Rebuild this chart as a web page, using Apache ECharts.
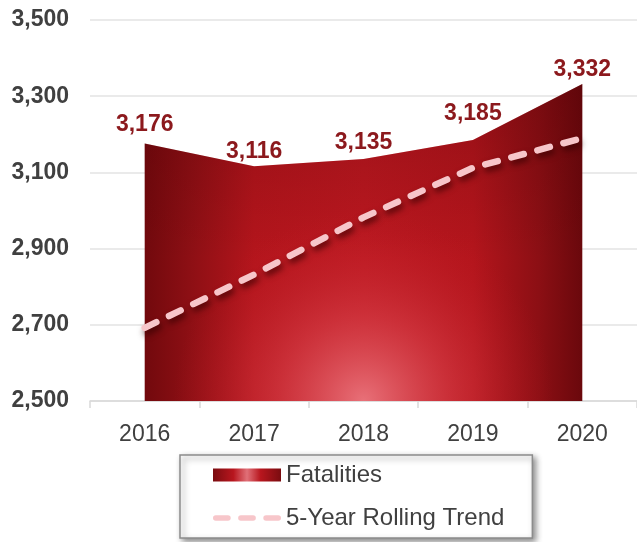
<!DOCTYPE html>
<html>
<head>
<meta charset="utf-8">
<script src="https://cdn.jsdelivr.net/npm/echarts@6/dist/echarts.min.js"></script>
<style>
html,body{margin:0;padding:0;background:#fff;}
#c{width:637px;height:542px;}
</style>
</head>
<body>
<div id="c"></div>
<script>
const years = ['2016', '2017', '2018', '2019', '2020'];
const fatalities = [3176, 3116, 3135, 3185, 3332];
const rollingTrend = [2692, 2832, 2982, 3112, 3190];
const yTicks = [2500, 2700, 2900, 3100, 3300, 3500];

const labelDistances = [6, 2, 4, 14, 2];
const fmt = v => Number(v).toLocaleString('en-US');
const FONT = '"Liberation Sans", Arial, sans-serif';

const chart = echarts.init(document.getElementById('c'), null, {renderer: 'canvas'});

const baseFill = new echarts.graphic.LinearGradient(0, 0, 1, 0, [
  {offset: 0, color: '#72090d'},
  {offset: 0.1, color: '#8c0f14'},
  {offset: 0.25, color: '#b4151c'},
  {offset: 0.5, color: '#bc1820'},
  {offset: 0.75, color: '#b4151c'},
  {offset: 0.9, color: '#8c0f14'},
  {offset: 1, color: '#6a080c'}
]);
const shadeFill = new echarts.graphic.LinearGradient(0, 0, 0, 1, [
  {offset: 0, color: 'rgba(70,0,5,0.28)'},
  {offset: 0.55, color: 'rgba(70,0,5,0)'},
  {offset: 1, color: 'rgba(70,0,5,0)'}
]);
const glowFill = new echarts.graphic.RadialGradient(0.5, 1.0, 0.6, [
  {offset: 0, color: 'rgba(236,120,128,0.92)'},
  {offset: 0.45, color: 'rgba(222,72,82,0.5)'},
  {offset: 1, color: 'rgba(190,25,35,0)'}
]);
const legendFill = new echarts.graphic.LinearGradient(0, 0, 1, 0, [
  {offset: 0, color: '#7a0c10'},
  {offset: 0.3, color: '#b8161e'},
  {offset: 0.5, color: '#e07078'},
  {offset: 0.7, color: '#b8161e'},
  {offset: 1, color: '#7a0c10'}
]);
// three rounded dashes in a 73 x 13 frame (degenerate corner points set the frame)
const dashIcon = 'path://M0,0L0,0ZM73,13L73,13Z' +
  'M3,3.5H16A3,3 0 0 1 16,9.5H3A3,3 0 0 1 3,3.5Z' +
  'M30,3.5H43A3,3 0 0 1 43,9.5H30A3,3 0 0 1 30,3.5Z' +
  'M57,3.5H70A3,3 0 0 1 70,9.5H57A3,3 0 0 1 57,3.5Z';

chart.setOption({
  animation: false,
  backgroundColor: '#ffffff',
  grid: {left: 90, right: 0, top: 20, bottom: 141, containLabel: false},
  xAxis: {
    type: 'category',
    data: years,
    boundaryGap: true,
    axisLine: {show: true, lineStyle: {color: '#d9d9d9', width: 1.5}},
    axisTick: {show: true, length: 7, lineStyle: {color: '#d9d9d9', width: 1.5}},
    axisLabel: {color: '#404040', fontSize: 23, fontFamily: FONT, margin: 22}
  },
  yAxis: {
    type: 'value',
    min: yTicks[0],
    max: yTicks[yTicks.length - 1],
    interval: yTicks[1] - yTicks[0],
    axisLine: {show: false},
    axisTick: {show: false},
    splitLine: {lineStyle: {color: '#e3e3e3', width: 1.5}},
    axisLabel: {color: '#404040', fontSize: 23, fontWeight: 'bold', fontFamily: FONT, margin: 21, formatter: fmt}
  },
  legend: {
    orient: 'vertical',
    left: 180,
    top: 455,
    padding: [8, 28, 8, 33],
    itemWidth: 68,
    itemHeight: 13,
    itemGap: 19,
    backgroundColor: '#ffffff',
    borderColor: '#8c8c8c',
    borderWidth: 1.5,
    shadowColor: 'rgba(0,0,0,0.45)',
    shadowBlur: 6,
    shadowOffsetX: 3,
    shadowOffsetY: 3,
    textStyle: {color: '#404040', fontSize: 24, fontFamily: FONT},
    data: [
      {name: 'Fatalities', icon: 'rect', itemStyle: {color: legendFill, opacity: 1, borderWidth: 0}},
      {name: '5-Year Rolling Trend', icon: dashIcon, itemStyle: {color: '#f7c6ca', opacity: 1, borderWidth: 0, shadowBlur: 0}}
    ]
  },
  series: [
    {
      name: 'Fatalities',
      type: 'line',
      data: fatalities.map((v, i) => ({value: v, label: {distance: labelDistances[i]}})),
      showSymbol: true,
      symbol: 'circle',
      symbolSize: 2,
      itemStyle: {color: 'rgba(0,0,0,0)'},
      lineStyle: {width: 0},
      areaStyle: {color: baseFill, opacity: 1},
      label: {
        show: true,
        position: 'top',
        color: '#8c191d',
        fontSize: 23,
        fontWeight: 'bold',
        fontFamily: FONT,
        formatter: p => fmt(p.value)
      },
      emphasis: {disabled: true},
      z: 2
    },
    {
      name: 'shade',
      type: 'line',
      data: fatalities,
      symbol: 'none',
      lineStyle: {width: 0},
      areaStyle: {color: shadeFill, opacity: 1},
      silent: true,
      emphasis: {disabled: true},
      z: 3
    },
    {
      name: 'glow',
      type: 'line',
      data: fatalities,
      symbol: 'none',
      lineStyle: {width: 0},
      areaStyle: {color: glowFill, opacity: 1},
      silent: true,
      emphasis: {disabled: true},
      z: 4
    },
    {
      name: '5-Year Rolling Trend',
      type: 'line',
      data: rollingTrend,
      symbol: 'none',
      lineStyle: {
        color: '#f7c6ca',
        width: 6.5,
        type: [13, 14],
        cap: 'round',
        shadowColor: 'rgba(50,0,0,0.7)',
        shadowBlur: 6,
        shadowOffsetX: 2,
        shadowOffsetY: 4
      },
      itemStyle: {color: '#f7c6ca'},
      emphasis: {disabled: true},
      z: 6
    }
  ]
});
</script>
</body>
</html>
